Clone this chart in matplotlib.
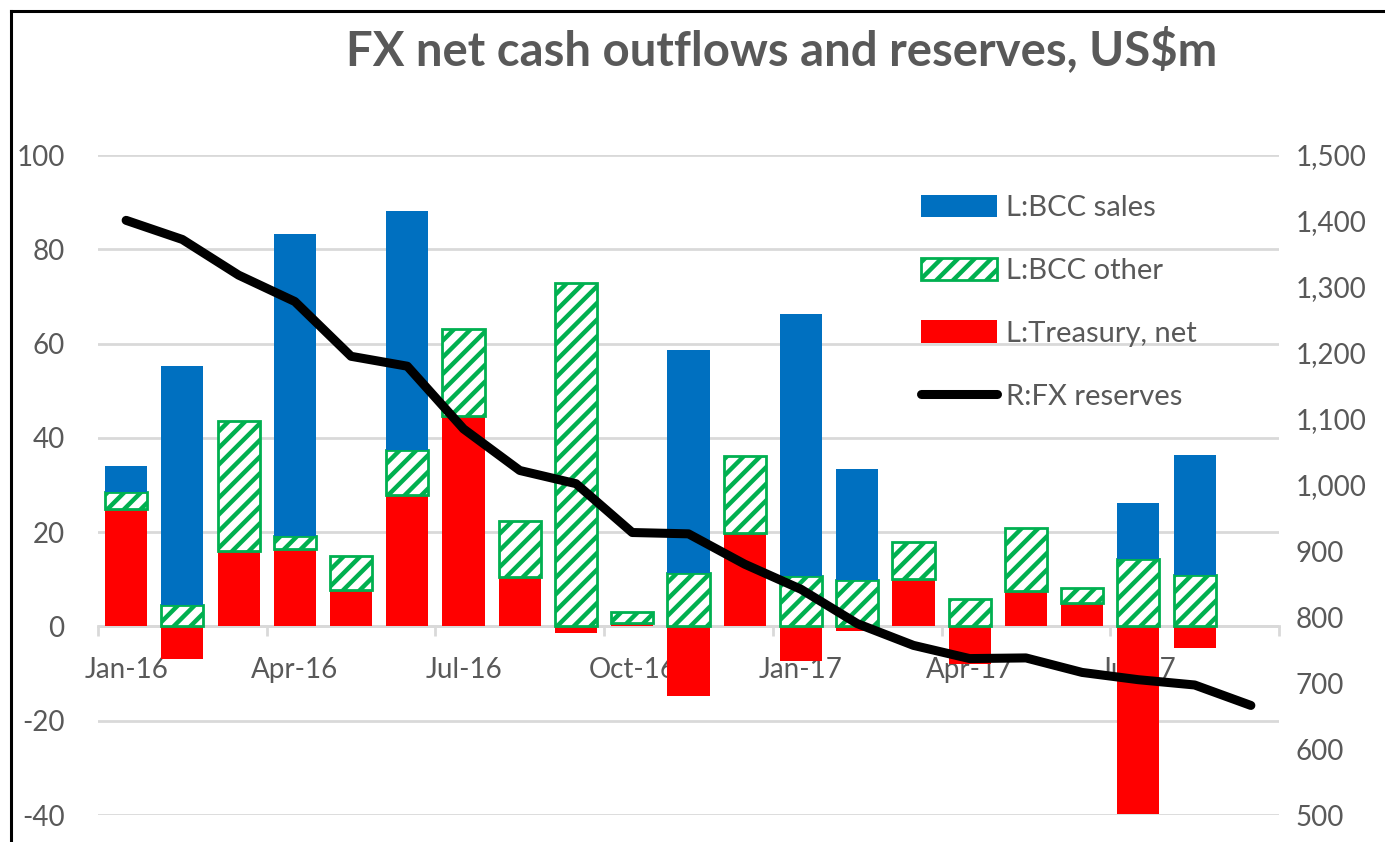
import numpy as np
import matplotlib
matplotlib.use("Agg")
import matplotlib.pyplot as plt
from matplotlib.lines import Line2D
from matplotlib.ticker import FixedLocator, StrMethodFormatter

plt.rcParams['font.family'] = ['Lato', 'DejaVu Sans']
plt.rcParams['axes.unicode_minus'] = False
plt.rcParams['hatch.linewidth'] = 3.2

# monthly data, Jan-16 .. Aug-17 (bars), reserves run to Sep-17
months = ['Jan-16', 'Feb-16', 'Mar-16', 'Apr-16', 'May-16', 'Jun-16', 'Jul-16',
          'Aug-16', 'Sep-16', 'Oct-16', 'Nov-16', 'Dec-16', 'Jan-17', 'Feb-17',
          'Mar-17', 'Apr-17', 'May-17', 'Jun-17', 'Jul-17', 'Aug-17', 'Sep-17']
treasury = [25.0, -7.0, 16.1, 16.5, 7.8, 27.8, 44.6, 10.5, -1.3, 0.8,
            -14.8, 19.8, -7.3, -1.0, 10.1, -8.0, 7.5, 5.0, -39.8, -4.5]
bcc_other = [3.5, 4.5, 27.5, 2.6, 7.1, 9.6, 18.5, 11.8, 72.8, 2.2,
             11.4, 16.4, 10.7, 9.8, 7.8, 5.9, 13.4, 3.2, 14.3, 11.0]
bcc_sales = [5.5, 50.8, 0, 64.2, 0, 50.7, 0, 0, 0, 0,
             47.3, 0, 55.5, 23.5, 0, 0, 0, 0, 11.9, 25.3]
reserves = [1401, 1372, 1318, 1278, 1195, 1180, 1085, 1022, 1002, 928, 926,
            880, 842, 790, 757, 737, 738, 716, 705, 697, 666]

GREY = '#595959'
GRID = '#d9d9d9'
BLUE = '#0070c0'
GREEN = '#00b050'
RED = '#ff0000'

fig = plt.figure(figsize=(13.85, 8.42), dpi=100)
ax = fig.add_axes([98 / 1385, 1 - 815 / 842, (1279 - 98) / 1385, (815 - 155) / 842])

x = np.arange(len(treasury))
tr = np.array(treasury)
oth = np.array(bcc_other)
sal = np.array(bcc_sales)
base = np.where(tr > 0, tr, 0)
w = 0.75

ax.bar(x, tr, w, color=RED, zorder=3, label='L:Treasury, net')
ax.bar(x, oth, w, bottom=base, facecolor='white', edgecolor=GREEN,
       hatch='//', linewidth=2, zorder=3, label='L:BCC other')
ax.bar(x, sal, w, bottom=base + oth, color=BLUE, zorder=3, label='L:BCC sales')

ax.set_xlim(-0.5, len(months) - 0.5)
ax.set_ylim(-40, 100)
ax.set_yticks(np.arange(-40, 101, 20))
ax.grid(axis='y', color=GRID, linewidth=2, zorder=0)
ax.set_axisbelow(True)
for s in ['top', 'right', 'left']:
    ax.spines[s].set_visible(False)
ax.spines['bottom'].set_position(('data', 0))
ax.spines['bottom'].set_color(GRID)
ax.spines['bottom'].set_linewidth(2)
ax.spines['bottom'].set_zorder(2)

# tick marks at category boundaries, labels at quarter months
ax.xaxis.set_major_locator(FixedLocator(np.arange(-0.5, len(months), 3)))
ax.xaxis.set_major_formatter(plt.NullFormatter())
ax.xaxis.set_minor_locator(FixedLocator(np.arange(0, len(months), 3)))
ax.set_xticklabels([months[i] for i in range(0, len(months), 3)], minor=True)
ax.tick_params(axis='x', which='major', length=7, width=2, color=GRID, direction='out')
ax.tick_params(axis='x', which='minor', length=0, pad=22, labelsize=20, labelcolor=GREY)
ax.tick_params(axis='y', length=0, pad=24, labelsize=20, labelcolor=GREY)

ax2 = ax.twinx()
ax2.plot(np.arange(len(reserves)), reserves, color='black', linewidth=6.5,
         solid_capstyle='round', solid_joinstyle='round', zorder=5, label='R:FX reserves')
ax2.set_ylim(500, 1500)
ax2.set_yticks(np.arange(500, 1501, 100))
ax2.yaxis.set_major_formatter(StrMethodFormatter('{x:,.0f}'))
ax2.tick_params(axis='y', length=0, pad=12, labelsize=20, labelcolor=GREY)
for s in ax2.spines.values():
    s.set_visible(False)

h1, l1 = ax.get_legend_handles_labels()
h2, l2 = ax2.get_legend_handles_labels()
handles = [h1[2], h1[1], h1[0], h2[0]]
labels = [l1[2], l1[1], l1[0], l2[0]]
fig.legend(handles, labels, loc='upper left', bbox_to_anchor=(921 / 1385, 1 - 195 / 842),
           frameon=False, fontsize=21, labelcolor=GREY, handlelength=2.6,
           handleheight=0.8, handletextpad=0.3, labelspacing=1.25,
           borderpad=0, borderaxespad=0)

fig.text(782 / 1385, 1 - 50 / 842, 'FX net cash outflows and reserves, US$m',
         ha='center', va='center', fontsize=34, fontweight='bold', color=GREY)

# chart frame (cropped on the right and bottom)
fig.add_artist(Line2D([11 / 1385, 11 / 1385], [0, 1 - 11 / 842], color='black', linewidth=2.2))
fig.add_artist(Line2D([11 / 1385, 1], [1 - 11 / 842, 1 - 11 / 842], color='black', linewidth=2.2))

fig.savefig('out.png', dpi=100)
